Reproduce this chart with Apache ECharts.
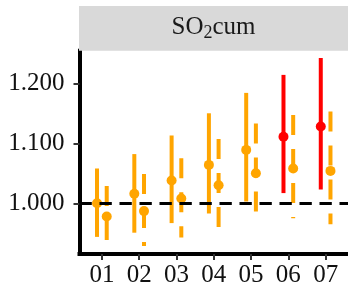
<!DOCTYPE html>
<html>
<head>
<meta charset="utf-8">
<script src="https://cdn.jsdelivr.net/npm/echarts@6/dist/echarts.min.js"></script>
<style>
html,body{margin:0;padding:0;background:#fff;}
#chart{width:348px;height:292px;}
</style>
</head>
<body>
<div id="chart"></div>
<script>
// periods on the x axis
var categories = ['01', '02', '03', '04', '05', '06', '07'];
// solid estimate + interval
var solidEst  = [1.000, 1.016, 1.038, 1.064, 1.089, 1.111, 1.128];
var solidLow  = [0.944, 0.951, 0.967, 0.983, 1.003, 1.017, 1.023];
var solidHigh = [1.058, 1.082, 1.113, 1.150, 1.184, 1.214, 1.242];
// dashed estimate + interval
var dashEst  = [0.978, 0.987, 1.008, 1.030, 1.050, 1.058, 1.054];
var dashLow  = [0.927, 0.929, 0.943, 0.958, 0.970, 0.975, 0.965];
var dashHigh = [1.029, 1.049, 1.075, 1.107, 1.133, 1.147, 1.153];
// solid interval excludes 1 -> red
var significant = [0, 0, 0, 0, 0, 1, 1];
var yTicks = [1.0, 1.1, 1.2];
var refValue = 1.0;

var ORANGE = '#FFA500', RED = '#FF0000', DODGE = 0.13;
var FONT = '"Liberation Serif", "Times New Roman", serif';

var forest = {
	build: function () {
		var solidRange = [], solidPts = [], dashRange = [], dashPts = [];
		for (var i = 0; i < categories.length; i++) {
			solidRange.push([i + 1 - DODGE, solidLow[i], solidHigh[i], significant[i]]);
			solidPts.push([i + 1 - DODGE, solidEst[i], significant[i]]);
			dashRange.push([i + 1 + DODGE, dashLow[i], dashHigh[i], 0]);
			dashPts.push([i + 1 + DODGE, dashEst[i], 0]);
		}
		return {solidRange: solidRange, solidPts: solidPts, dashRange: dashRange, dashPts: dashPts};
	},
	rangeRenderer: function (dash) {
		return function (params, api) {
			var top = api.coord([api.value(0), api.value(2)]),
			    bot = api.coord([api.value(0), api.value(1)]);
			return {
				type: 'line',
				shape: {x1: top[0], y1: top[1], x2: bot[0], y2: bot[1]},
				style: {
					stroke: api.value(3) ? RED : ORANGE,
					lineWidth: 4,
					lineDash: dash ? [20, 14] : null
				}
			};
		};
	},
	init: function () {
		var chart = echarts.init(document.getElementById('chart'), null, {renderer: 'canvas'});
		var d = forest.build();
		var ptColor = function (p) { return p.value[2] ? RED : ORANGE; };
		var options = {
			animation: false,
			grid: {left: 79.5, right: 0, top: 50.7, bottom: 38},
			graphic: [
				{type: 'rect', shape: {x: 79, y: 6, width: 269, height: 44.7}, style: {fill: '#d9d9d9'}, z: 1},
				{
					type: 'text', z: 2,
					style: {
						x: 213.5, y: 27, align: 'center', verticalAlign: 'middle',
						text: '{a|SO}{b|2}{a|cum}',
						rich: {
							a: {fontFamily: FONT, fontSize: 25, lineHeight: 30, fill: '#1a1a1a'},
							b: {fontFamily: FONT, fontSize: 18, lineHeight: 18, verticalAlign: 'bottom', fill: '#1a1a1a'}
						}
					}
				}
			],
			xAxis: {
				type: 'value', min: 0.4, max: 7.6,
				splitLine: {show: false},
				axisLine: {show: true, lineStyle: {color: '#000', width: 4, cap: 'square'}},
				axisTick: {show: true, length: 6, customValues: [1, 2, 3, 4, 5, 6, 7], lineStyle: {color: '#333', width: 2}},
				axisLabel: {
					customValues: [1, 2, 3, 4, 5, 6, 7],
					margin: 9, color: '#111', fontFamily: FONT, fontSize: 25,
					formatter: function (v) { return categories[Math.round(v) - 1]; }
				}
			},
			yAxis: {
				type: 'value', min: 0.9155, max: 1.2543,
				splitLine: {show: false},
				axisLine: {show: true, lineStyle: {color: '#000', width: 4, cap: 'square'}},
				axisTick: {show: true, length: 6, customValues: yTicks, lineStyle: {color: '#333', width: 2}},
				axisLabel: {
					customValues: yTicks,
					margin: 15, color: '#111', fontFamily: FONT, fontSize: 25,
					formatter: function (v) { return v.toFixed(3); }
				}
			},
			series: [
				{type: 'custom', renderItem: forest.rangeRenderer(false), data: d.solidRange, z: 2, silent: true},
				{type: 'custom', renderItem: forest.rangeRenderer(true), data: d.dashRange, z: 2, silent: true},
				{type: 'scatter', data: d.solidPts, symbolSize: 10, itemStyle: {color: ptColor, opacity: 1}, z: 3, silent: true},
				{type: 'scatter', data: d.dashPts, symbolSize: 10, itemStyle: {color: ptColor, opacity: 1}, z: 3, silent: true},
				{
					type: 'scatter', data: [], z: 10, silent: true,
					markLine: {
						silent: true, symbol: 'none', label: {show: false},
						lineStyle: {color: '#000', width: 3, type: [12.3, 7.7]},
						data: [{yAxis: refValue}]
					}
				}
			]
		};
		chart.setOption(options);
	}
};
forest.init();
</script>
</body>
</html>
